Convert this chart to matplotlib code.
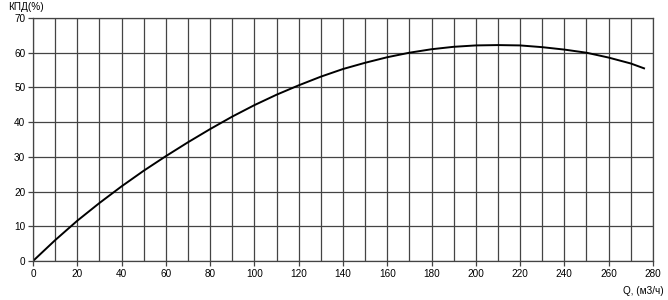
import numpy as np
import matplotlib.pyplot as plt

plt.rcParams['font.family'] = ['Liberation Sans', 'DejaVu Sans']

# flow (m3/h) and efficiency (%)
q = [0, 10, 20, 30, 40, 50, 60, 70, 80, 90, 100, 110, 120, 130, 140,
     150, 160, 170, 180, 190, 200, 210, 220, 230, 240, 250, 260, 270, 276]
eff = [0, 6.0, 11.6, 16.7, 21.5, 26.0, 30.2, 34.2, 38.0, 41.6, 44.9, 47.9,
       50.6, 53.1, 55.3, 57.1, 58.7, 60.0, 61.0, 61.7, 62.1, 62.2, 62.1,
       61.6, 60.9, 60.0, 58.6, 56.9, 55.5]

x_ticks = list(range(0, 281, 20))
y_ticks = list(range(0, 71, 10))

fig = plt.figure(figsize=(6.68, 3.0), dpi=100)
ax = fig.add_axes([0.0494, 0.13, 0.928, 0.81])

ax.plot(q, eff, color='black', lw=1.4)

ax.set_xlim(0, 280)
ax.set_ylim(0, 70)
ax.set_xticks(x_ticks)
ax.set_xticks(range(0, 281, 10), minor=True)
ax.set_yticks(y_ticks)
ax.grid(True, which='both', color='#444444', lw=0.9)
ax.tick_params(which='major', length=3.5, width=0.9, labelsize=7.2, pad=2, color='#444444')
ax.tick_params(which='minor', length=0)
for s in ax.spines.values():
    s.set_color('#444444')
    s.set_linewidth(0.9)

fig.text(0.012, 0.995, 'КПД(%)', fontsize=7.2, va='top', ha='left')
fig.text(0.993, 0.03, 'Q, (м3/ч)', fontsize=7.2, va='center', ha='right')

fig.savefig('out.png', dpi=100)
